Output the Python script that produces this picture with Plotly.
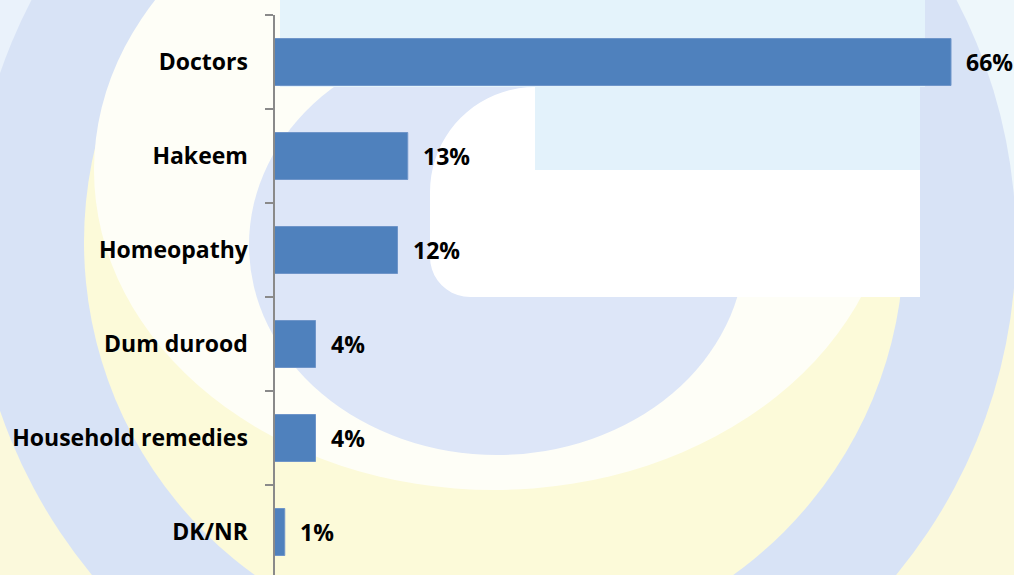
import math
import plotly.graph_objects as go

categories = ["Doctors", "Hakeem", "Homeopathy", "Dum durood", "Household remedies", "DK/NR"]
values = [66, 13, 12, 4, 4, 1]
value_labels = ["66%", "13%", "12%", "4%", "4%", "1%"]

W, H = 1014, 575
AXIS_X = 274.5
PX_PER_UNIT = (951 - AXIS_X) / 66.0
TOP_Y = 15
BAND = 94.0
FONT = "Open Sans, Noto Sans, sans-serif"


def px(x):
    return x / W


def py(y):
    return 1 - y / H


def ellipse(cx, cy, rx, ry, color):
    return dict(type="circle", xref="paper", yref="paper", layer="below",
                x0=px(cx - rx), x1=px(cx + rx), y0=py(cy + ry), y1=py(cy - ry),
                fillcolor=color, line=dict(width=0))


def rect(x0, y0, x1, y1, color):
    return dict(type="rect", xref="paper", yref="paper", layer="below",
                x0=px(x0), x1=px(x1), y0=py(y1), y1=py(y0),
                fillcolor=color, line=dict(width=0))


def poly(points, color):
    d = "M " + " L ".join(f"{px(x):.5f},{py(y):.5f}" for x, y in points) + " Z"
    return dict(type="path", xref="paper", yref="paper", layer="below", path=d,
                fillcolor=color, line=dict(width=0))


shapes = []
# faint watermark background (logo-like rings)
shapes.append(rect(0, 0, 300, 140, "#eaf2fb"))
shapes.append(rect(860, 0, W, 220, "#eef7fb"))
shapes.append(ellipse(494, 242, 522, 522, "#d8e3f6"))
shapes.append(ellipse(494, 242, 410, 410, "#fcfad9"))
shapes.append(ellipse(494, 170, 400, 320, "#fefef7"))
shapes.append(ellipse(497, 245, 248, 210, "#dde6f8"))
# light cyan top area and the opening of the G
shapes.append(rect(280, 0, 925, 87, "#e4f3fb"))
shapes.append(rect(535, 87, 920, 170, "#e3f2fb"))
# white inner area of the G
white_pts = []
for k in range(0, 21):
    a = math.pi / 2 + k * (math.pi / 2) / 20
    white_pts.append((535 + 105 * math.cos(a), 192 - 105 * math.sin(a)))
white_pts = white_pts + [(430, 257)]
for k in range(0, 11):
    a = math.pi + k * (math.pi / 2) / 10
    white_pts.append((470 + 40 * math.cos(a), 257 - 40 * math.sin(a)))
white_pts += [(920, 297), (920, 170), (535, 170)]
shapes.append(poly(white_pts, "#ffffff"))

y_top = -0.5
y_bottom = -0.5 + (H - TOP_Y) / BAND

fig = go.Figure()
fig.add_trace(go.Bar(
    y=categories, x=values, orientation="h",
    marker=dict(color="#4f81bd", line=dict(color="#6f95c9", width=1)),
    width=0.5, hoverinfo="skip",
))

annotations = []
for c, v, t in zip(categories, values, value_labels):
    annotations.append(dict(x=v, y=c, xref="x", yref="y", text=t, showarrow=False,
                            xanchor="left", yanchor="middle", xshift=13,
                            font=dict(family=FONT, size=23, color="#000000", weight="bold")))

fig.update_layout(
    width=W, height=H,
    margin=dict(l=0, r=0, t=0, b=0),
    paper_bgcolor="#fbf9dc",
    plot_bgcolor="rgba(0,0,0,0)",
    showlegend=False,
    shapes=shapes,
    annotations=annotations,
    xaxis=dict(domain=[AXIS_X / W, 1], range=[0, (W - AXIS_X) / PX_PER_UNIT],
               visible=False, fixedrange=True),
    yaxis=dict(domain=[0, 1 - TOP_Y / H], type="category",
               range=[y_bottom, y_top], fixedrange=True,
               showline=True, linecolor="#8a8a8a", linewidth=2,
               ticks="outside", ticklen=8, tickcolor="#8a8a8a", tickwidth=2,
               tickson="boundaries", showgrid=False, zeroline=False,
               ticklabelstandoff=20,
               tickfont=dict(family=FONT, size=23, color="#000000", weight="bold")),
)

fig.write_html("out.html", config={"displayModeBar": False},
               post_script="document.body.style.margin='0';document.body.style.overflow='hidden';")
